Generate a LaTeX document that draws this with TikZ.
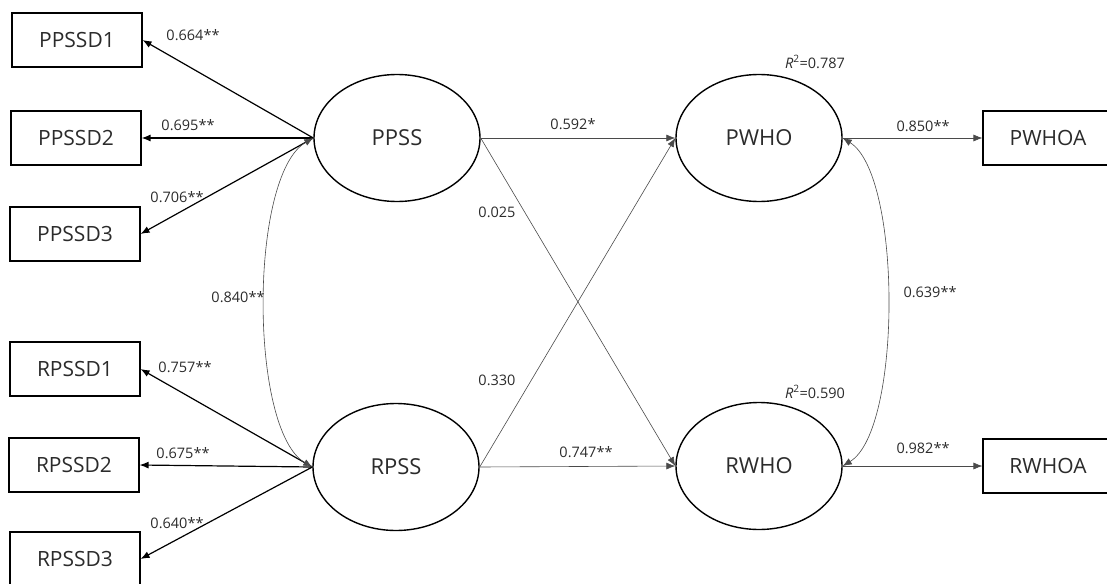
\documentclass[tikz,border=0pt]{standalone}
\usepackage{fontspec}
\setmainfont{Open Sans}
\usetikzlibrary{arrows.meta,shapes.geometric}
\definecolor{ink}{HTML}{2B2B2B}
\definecolor{thin}{HTML}{4A4A4A}
\begin{document}
\begin{tikzpicture}[x=1pt,y=-1pt,
  every node/.style={text=ink},
  indbox/.style={draw=black,line width=1.1pt,minimum width=130pt,minimum height=54pt,inner sep=0pt,font=\fontsize{21}{21}\selectfont},
  latent/.style={draw=black,line width=1.4pt,ellipse,minimum width=166pt,minimum height=127pt,inner sep=0pt,font=\fontsize{22}{22}\selectfont},
  coef/.style={font=\fontsize{14.5}{14.5}\selectfont,inner sep=0pt},
  tip/.style={-{Latex[length=9pt,width=7pt]}},
  loading/.style={tip,line width=1.2pt,draw=black},
  path/.style={tip,line width=0.6pt,draw=thin},
  covar/.style={{Latex[length=9pt,width=7pt]}-{Latex[length=9pt,width=7pt]},line width=0.6pt,draw=thin}]
\useasboundingbox (0,0) rectangle (1107,583);

% measured indicators
\node[indbox] (PPSSD1) at (77,40)  {PPSSD1};
\node[indbox] (PPSSD2) at (76,138) {PPSSD2};
\node[indbox] (PPSSD3) at (75,234) {PPSSD3};
\node[indbox] (RPSSD1) at (75,369) {RPSSD1};
\node[indbox] (RPSSD2) at (74,465) {RPSSD2};
\node[indbox] (RPSSD3) at (75,559) {RPSSD3};
\node[indbox] (PWHOA) at (1048,138) {PWHOA};
\node[indbox] (RWHOA) at (1048,466) {RWHOA};

% latent constructs
\node[latent] (PPSS) at (397,138) {PPSS};
\node[latent] (RPSS) at (396,467) {RPSS};
\node[latent] (PWHO) at (759,138) {PWHO};
\node[latent] (RWHO) at (759,466) {RWHO};

% outer loadings
\draw[loading] (PPSS.west) -- (PPSSD1.east);
\draw[loading] (PPSS.west) -- (PPSSD2.east);
\draw[loading] (PPSS.west) -- (PPSSD3.east);
\draw[loading] (RPSS.west) -- (RPSSD1.east);
\draw[loading] (RPSS.west) -- (RPSSD2.east);
\draw[loading] (RPSS.west) -- (RPSSD3.east);
\draw[path] (PWHO.east) -- (PWHOA.west);
\draw[path] (RWHO.east) -- (RWHOA.west);

% structural paths
\draw[path] (PPSS.east) -- (PWHO.west);
\draw[path] (PPSS.east) -- (RWHO.west);
\draw[path] (RPSS.east) -- (PWHO.west);
\draw[path] (RPSS.east) -- (RWHO.west);

% correlations between constructs
\draw[covar] (PPSS.west) .. controls (249,175) and (249,430) .. (RPSS.west);
\draw[covar] (PWHO.east) .. controls (902,175) and (902,430) .. (RWHO.east);

% coefficients
\node[coef] (l1) at (193,35)  {0.664**};
\node[coef] (l2) at (188,125) {0.695**};
\node[coef] (l3) at (177,197) {0.706**};
\node[coef] (l4) at (185,367) {0.757**};
\node[coef] (l5) at (183,453) {0.675**};
\node[coef] (l6) at (177,523) {0.640**};
\node[coef] (l7) at (238,297) {0.840**};
\node[coef] (l8) at (573,124) {0.592*};
\node[coef] (l9) at (497,212) {0.025};
\node[coef] (l10) at (497,380) {0.330};
\node[coef] (l11) at (586,452) {0.747**};
\node[coef] (l12) at (923,126) {0.850**};
\node[coef] (l13) at (923,448) {0.982**};
\node[coef] (l14) at (930,292) {0.639**};
\node[coef] (r1) at (815,62)  {\textit{R}\textsuperscript{2}=0.787};
\node[coef] (r2) at (815,392) {\textit{R}\textsuperscript{2}=0.590};
\end{tikzpicture}
\end{document}
